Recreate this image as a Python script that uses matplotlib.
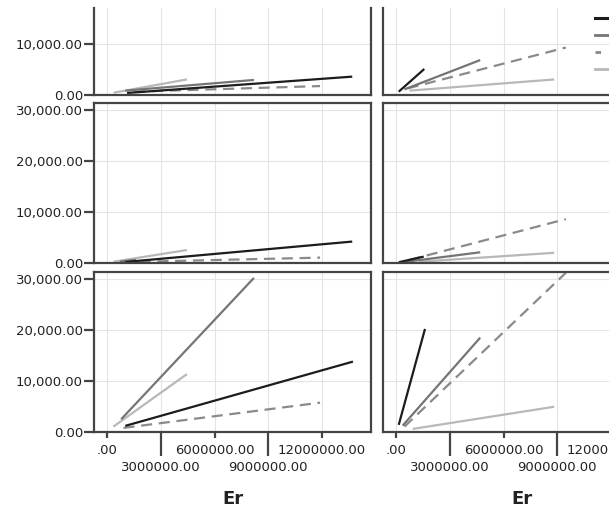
import matplotlib
matplotlib.use("Agg")
import matplotlib.pyplot as plt
from matplotlib.lines import Line2D
from matplotlib.ticker import FuncFormatter

# Fit lines per group, one [start, end] pair per panel
# panel order: top-left, top-right, mid-left, mid-right, bottom-left, bottom-right
groups = ["1", "2", "3", "4"]

black_x = [[1.1e6, 13.7e6], [0.13e6, 1.56e6], [1.0e6, 13.7e6],
           [0.13e6, 1.53e6], [1.0e6, 13.74e6], [0.13e6, 1.6e6]]
black_y = [[400, 3600], [650, 5100], [200, 4200],
           [150, 1250], [1200, 13800], [1400, 20200]]

dark_x = [[1.0e6, 8.2e6], [0.45e6, 4.69e6], [0.7e6, 1.6e6],
          [0.54e6, 4.69e6], [0.77e6, 8.2e6], [0.35e6, 4.69e6]]
dark_y = [[850, 2950], [1100, 6850], [300, 600],
          [250, 2100], [2500, 30200], [1250, 18500]]

dash_x = [[1.5e6, 11.9e6], [0.63e6, 9.48e6], [1.8e6, 11.9e6],
          [0.73e6, 9.48e6], [0.9e6, 11.9e6], [0.45e6, 9.48e6]]
dash_y = [[650, 1750], [1300, 9300], [250, 1050],
          [600, 8600], [800, 5750], [1050, 31200]]

light_x = [[0.35e6, 4.45e6], [0.73e6, 8.83e6], [0.35e6, 4.45e6],
           [1.28e6, 8.83e6], [0.33e6, 4.45e6], [0.91e6, 8.83e6]]
light_y = [[450, 3050], [850, 3050], [250, 2550],
           [250, 2000], [1050, 11350], [600, 4950]]

x_major = [0, 6e6, 12e6]
x_minor = [3e6, 9e6]
y_ticks = [0, 10000, 20000, 30000]

W, H = 609, 509
fig = plt.figure(figsize=(W / 100, H / 100), dpi=100)
plt.rcParams["font.family"] = "DejaVu Sans"

spine_col = "#444444"
grid_col = "#e4e4e4"
txt_col = "#222222"

# (left px, top px, bottom px) of each panel
col_left = [94, 383]
row_box = [(8, 95), (103, 263), (272, 432)]
panel_w = 277

axes = []
for r, (top, bot) in enumerate(row_box):
    for c, left in enumerate(col_left):
        ax = fig.add_axes([left / W, 1 - bot / H, panel_w / W, (bot - top) / H])
        axes.append(ax)
        ax.set_xlim(-0.75e6, 14.75e6)
        ax.set_ylim(0, (bot - top) * 196.0)
        for s in ax.spines.values():
            s.set_color(spine_col)
            s.set_linewidth(1.6)
        if r == 0:
            ax.spines["top"].set_visible(False)
        ax.set_xticks(x_major)
        ax.set_xticks(x_minor, minor=True)
        ax.set_yticks([t for t in y_ticks if t <= ax.get_ylim()[1]])
        ax.grid(True, which="both", color=grid_col, linewidth=0.8)
        ax.set_axisbelow(True)
        ax.yaxis.set_major_formatter(FuncFormatter(lambda v, p: "{:,.2f}".format(v)))
        ax.xaxis.set_major_formatter(FuncFormatter(lambda v, p: ".00" if v == 0 else "{:.2f}".format(v)))
        ax.xaxis.set_minor_formatter(FuncFormatter(lambda v, p: "{:.2f}".format(v)))
        ax.tick_params(axis="both", which="both", colors=spine_col, labelcolor=txt_col,
                       labelsize=9.5, width=1.6)
        ax.tick_params(axis="y", length=7, pad=1)
        ax.tick_params(axis="x", which="major", length=4, pad=5)
        ax.tick_params(axis="x", which="minor", length=17, pad=4)
        if c == 1:
            ax.tick_params(axis="y", left=False, labelleft=False)
        if r < 2:
            ax.tick_params(axis="x", which="both", bottom=False, labelbottom=False)
        else:
            ax.set_xlabel("Er", fontsize=13, fontweight="bold", color=txt_col)
            ax.xaxis.label.set_va("center")
            ax.xaxis.set_label_coords(0.5, -0.42)

        i = r * 2 + c
        ax.plot(light_x[i], light_y[i], color="#b8b8b8", lw=1.6, solid_capstyle="butt")
        ax.plot(dash_x[i], dash_y[i], color="#8a8a8a", lw=1.6, dashes=(5, 3))
        ax.plot(dark_x[i], dark_y[i], color="#757575", lw=1.6, solid_capstyle="butt")
        ax.plot(black_x[i], black_y[i], color="#1c1c1c", lw=1.6, solid_capstyle="butt")

handles = [
    Line2D([], [], color="#1c1c1c", lw=2.2),
    Line2D([], [], color="#757575", lw=2.0),
    Line2D([], [], color="#8a8a8a", lw=2.0, dashes=(2, 3)),
    Line2D([], [], color="#b8b8b8", lw=2.0),
]
fig.legend(handles, groups, loc="upper left", bbox_to_anchor=(595 / W, 1 - 13 / H),
           frameon=False, borderpad=0, borderaxespad=0, handlelength=2.5,
           labelspacing=0.3, fontsize=9.5)

fig.savefig("out.png", dpi=100)
